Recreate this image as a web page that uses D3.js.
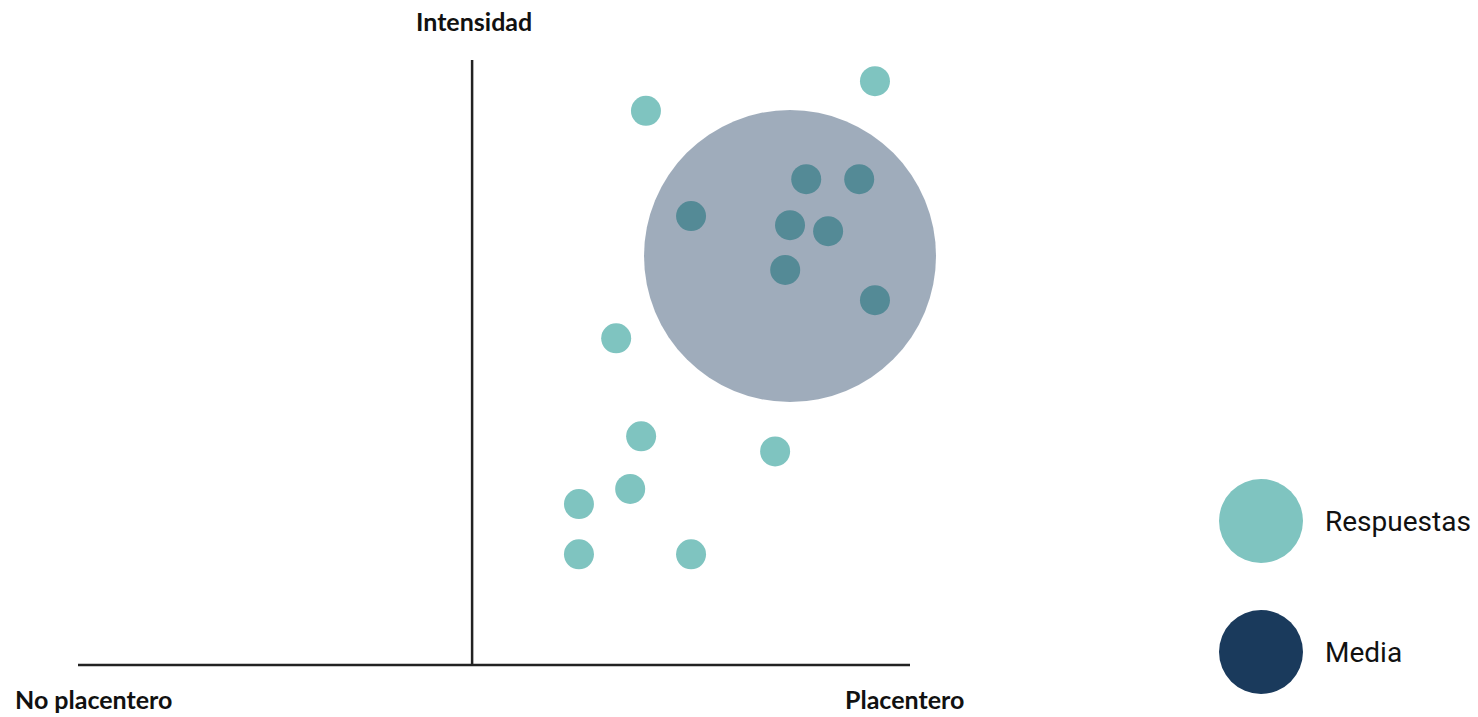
<!DOCTYPE html>
<html><head><meta charset="utf-8">
<script src="https://cdn.jsdelivr.net/npm/d3@7"></script>
<style>body{margin:0;background:#fff}svg{display:block}</style>
</head><body>
<svg id="c" width="1478" height="717"></svg>
<script>
// Data
const respX = [9.20, 3.97, 3.29, 3.86, 6.92, 3.61, 2.44, 2.44, 5.00, 7.63, 8.84, 5.00, 7.26, 8.13, 7.15, 9.20];
const respY = [9.65, 9.16, 5.40, 3.78, 3.53, 2.91, 2.66, 1.83, 1.83, 8.03, 8.03, 7.42, 7.27, 7.17, 6.53, 6.03];
const mediaX = [7.26];
const mediaY = [6.76];
const axisLabels = ["Intensidad", "No placentero", "Placentero"];
const legendLabels = ["Respuestas", "Media"];
const colors = ["#7fc4c0", "#1a3a5c"];

const svg = d3.select("#c");
const x = d3.scaleLinear().domain([-9, 10]).range([78, 910]);
const y = d3.scaleLinear().domain([0, 10]).range([665, 60]);

// axes
svg.append("line").attr("x1", x(-9)).attr("x2", x(10)).attr("y1", y(0)).attr("y2", y(0))
  .attr("stroke", "#222").attr("stroke-width", 2.5);
svg.append("line").attr("x1", x(0)).attr("x2", x(0)).attr("y1", y(0)).attr("y2", y(10))
  .attr("stroke", "#222").attr("stroke-width", 2.5);

const lf = "Lato, 'Open Sans', sans-serif";
svg.append("text").attr("x", x(0) + 2).attr("y", 31).attr("text-anchor", "middle")
  .attr("font-family", lf).attr("font-weight", 700).attr("font-size", 25).attr("fill", "#111").text(axisLabels[0]);
svg.append("text").attr("x", 15).attr("y", 709)
  .attr("font-family", lf).attr("font-weight", 700).attr("font-size", 25).attr("fill", "#111").text(axisLabels[1]);
svg.append("text").attr("x", 845).attr("y", 709)
  .attr("font-family", lf).attr("font-weight", 700).attr("font-size", 25).attr("fill", "#111").text(axisLabels[2]);

// points
svg.append("g").selectAll("circle").data(respX.map((d, i) => [d, respY[i]])).join("circle")
  .attr("cx", d => x(d[0])).attr("cy", d => y(d[1])).attr("r", 15).attr("fill", colors[0]);

// mean circle
svg.append("g").selectAll("circle").data(mediaX.map((d, i) => [d, mediaY[i]])).join("circle")
  .attr("cx", d => x(d[0])).attr("cy", d => y(d[1])).attr("r", 146)
  .attr("fill", colors[1]).attr("fill-opacity", 0.42);

// legend
const lg = svg.append("g").attr("transform", "translate(1261,521)");
legendLabels.forEach((t, i) => {
  lg.append("circle").attr("cx", 0).attr("cy", i * 131).attr("r", 42).attr("fill", colors[i]);
  lg.append("text").attr("x", 64).attr("y", i * 131).attr("dy", "0.35em")
    .attr("font-family", "Roboto, sans-serif").attr("font-size", 28).attr("fill", "#111").text(t);
});
</script>
</body></html>
